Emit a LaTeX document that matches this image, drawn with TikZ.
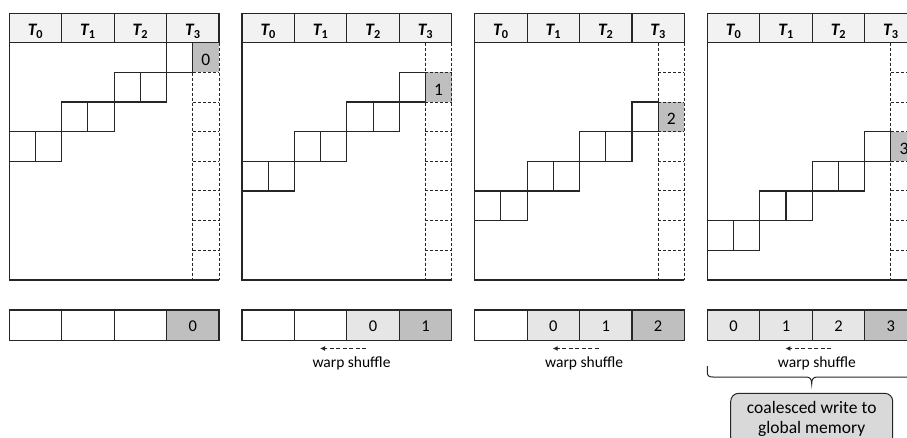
\documentclass[tikz,border=0pt]{standalone}
\usepackage{fontspec}
\setmainfont{Carlito}
\usetikzlibrary{arrows.meta}

\definecolor{ink}{HTML}{262626}
\definecolor{hdrfill}{HTML}{F2F2F2}
\definecolor{curfill}{HTML}{BFBFBF}
\definecolor{oldfill}{HTML}{E6E6E6}
\definecolor{notefill}{HTML}{D9D9D9}

\begin{document}
\begin{tikzpicture}[x=1pt,y=-1pt,
  every node/.style={inner sep=0pt,outer sep=0pt},
  solidln/.style={draw=ink,line width=1.1pt},
  slotln/.style={draw=ink,line width=1pt,dash pattern=on 3pt off 2pt},
  hdrcell/.style={solidln,fill=hdrfill,minimum width=52.42pt,minimum height=29.4pt,
    anchor=north west,text height=16pt,text depth=0pt,
    font=\fontsize{17.5}{20}\selectfont\bfseries\itshape},
  stepcell/.style={solidln,minimum width=26.21pt,minimum height=29.66pt,anchor=north west},
  curcell/.style={fill=curfill,minimum width=26.21pt,minimum height=29.66pt,anchor=north west,
    text height=16.3pt,text depth=0pt,font=\fontsize{17.5}{20}\selectfont},
  regcell/.style={solidln,minimum width=52.42pt,minimum height=30.7pt,anchor=north west,
    text height=12.7pt,text depth=0pt,font=\fontsize{16.5}{19}\selectfont},
  shufarrow/.style={ink,line width=1pt,dash pattern=on 4pt off 2.5pt,-{Latex[length=5pt,width=5pt]}},
  shuflabel/.style={anchor=base,font=\fontsize{15.5}{18}\selectfont},
  brace/.style={ink,line width=1pt},
  notebox/.style={draw=ink,line width=1pt,fill=notefill,rounded corners=8pt,anchor=north,
    minimum width=162pt,minimum height=52pt,align=center,font=\fontsize{17.5}{20}\selectfont},
]
\useasboundingbox (0,0) rectangle (907,438);
\clip (0,0) rectangle (907,438);

\foreach \k in {0,...,3}{
  \pgfmathsetmacro{\X}{9.3+232.7*\k}
  \pgfmathsetmacro{\Yc}{42.7+29.66*\k}
  % result slot of the current step in the last column
  \node[curcell] (cur\k) at ({\X+183.49},\Yc) {\k};
  % dashed last column
  \draw[slotln] ({\X+183.49},42.7) -- ({\X+183.49},280);
  \draw[slotln] ({\X+209.7},42.7) -- ({\X+209.7},280);
  \foreach \r in {1,...,7}
    \draw[slotln] ({\X+183.49},{42.7+29.66*\r}) -- ({\X+209.7},{42.7+29.66*\r});
  % matrix outline
  \draw[solidln] (\X,42.7) -- (\X,280) -- ({\X+209.7},280);
  % staircase of active cells
  \node[stepcell] (s\k-0-6) at ({\X+6*26.21},\Yc) {};
  \foreach \j in {1,2,3}{
    \pgfmathsetmacro{\Yr}{42.7+29.66*(\k+\j)}
    \pgfmathtruncatemacro{\ca}{6-2*\j}
    \pgfmathtruncatemacro{\cb}{7-2*\j}
    \node[stepcell] (s\k-\j-\ca) at ({\X+\ca*26.21},\Yr) {};
    \node[stepcell] (s\k-\j-\cb) at ({\X+\cb*26.21},\Yr) {};
  }
  % thread header
  \foreach \i in {0,...,3}
    \node[hdrcell] (h\k-\i) at ({\X+52.42*\i},13.3) {T\textsubscript{\upshape\i}};
  % register row
  \foreach \i in {0,...,3}{
    \pgfmathtruncatemacro{\v}{\i-3+\k}
    \ifnum\i=3 \def\cellfill{curfill}\else\ifnum\v<0 \def\cellfill{white}\else\def\cellfill{oldfill}\fi\fi
    \node[regcell,fill=\cellfill] (r\k-\i) at ({\X+52.42*\i},310) {\ifnum\v<0 \else\v\fi};
  }
  \ifnum\k>0
    \coordinate (wsa\k) at ({\X+124},348.5);
    \coordinate (wsb\k) at ({\X+78},348.5);
    \draw[shufarrow] (wsa\k) -- (wsb\k);
    \node[shuflabel] (wsl\k) at ({\X+109.5},367.5) {warp shuffle};
  \fi
}

% brace under the last register row
\coordinate (brL) at (707.3,366);
\coordinate (brM) at (811.7,384);
\coordinate (brR) at (917,366);
\draw[brace] (brL) -- (707.3,372) .. controls (707.3,376) and (709,377) .. (713,377)
  -- (806,377) .. controls (810,377) and (811.7,379) .. (brM)
  .. controls (811.7,379) and (813.4,377) .. (817.4,377)
  -- (911,377) .. controls (915,377) and (917,376) .. (917,372) -- (brR);

\node[notebox] (note) at (811.7,393.3) {coalesced write to\\global memory};
\end{tikzpicture}
\end{document}
